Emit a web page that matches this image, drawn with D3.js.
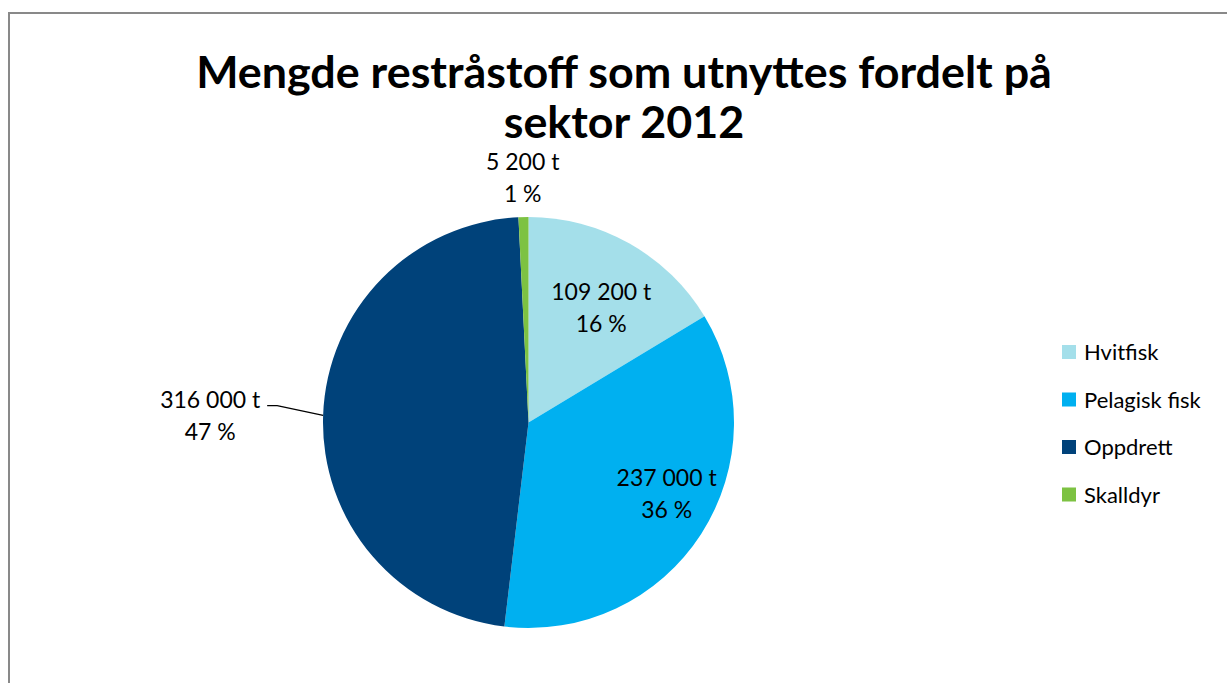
<!DOCTYPE html>
<html>
<head>
<meta charset="utf-8">
<script src="https://cdn.jsdelivr.net/npm/d3@7"></script>
<style>
  body { margin: 0; background: #fff; }
  svg { display: block; }
  text { font-family: Lato, 'Open Sans', sans-serif; fill: #000; }
</style>
</head>
<body>
<div id="chart"></div>
<script>
const sectors = ['Hvitfisk', 'Pelagisk fisk', 'Oppdrett', 'Skalldyr']
const tonnes = [109200, 237000, 316000, 5200]
const tonneLabels = ['109 200 t', '237 000 t', '316 000 t', '5 200 t']
const pctLabels = ['16 %', '36 %', '47 %', '1 %']
const colors = ['#a4dfea', '#00b0f0', '#00427a', '#7dc242']
const titleLines = ['Mengde restråstoff som utnyttes fordelt på', 'sektor 2012']

const width = 1227
const height = 683
const cx = 528.5
const cy = 422.5
const radius = 205.5

// label placement per slice: radius factor, vertical nudge
const labelPos = [
  { k: 0.72, dy: 10 },
  { k: 0.80, dy: -22 },
  { k: 1.55, dy: 0 },
  { k: 1.15, dy: -12 }
]

const svg = d3.select('#chart')
  .append('svg')
  .attr('width', width)
  .attr('height', height)

svg.append('rect')
  .attr('x', 9)
  .attr('y', 13)
  .attr('width', 1300)
  .attr('height', 800)
  .attr('fill', '#fff')
  .attr('stroke', '#898989')
  .attr('stroke-width', 2)

// title, scaled to the reference width
const title = svg.append('g')
titleLines.forEach((line, i) => {
  title.append('text')
    .attr('x', 624)
    .attr('y', 88 + i * 50)
    .attr('text-anchor', 'middle')
    .style('font-weight', 'bold')
    .style('font-size', '40px')
    .text(line)
})
const first = title.select('text').node()
const scale = 856 / first.getComputedTextLength()
title.selectAll('text').style('font-size', (40 * scale) + 'px')

const pie = d3.pie().sort(null).value(d => d)
const arcs = pie(tonnes)
const arc = d3.arc().innerRadius(0).outerRadius(radius)

const g = svg.append('g').attr('transform', 'translate(' + cx + ',' + cy + ')')

g.selectAll('path')
  .data(arcs)
  .enter()
  .append('path')
  .attr('d', arc)
  .attr('fill', (d, i) => colors[i])

const midPoint = (d, r) => {
  const a = (d.startAngle + d.endAngle) / 2
  return [Math.sin(a) * r, -Math.cos(a) * r]
}

arcs.forEach((d, i) => {
  const p = labelPos[i]
  let [x, y] = midPoint(d, radius * p.k)
  y += p.dy
  if (i === 2) {
    // leader line for the big slice label
    const edge = midPoint(d, radius)
    const elbow = [x + 67, y - 6]
    g.append('polyline')
      .attr('points', [edge, elbow, [elbow[0] - 10, elbow[1]]].map(q => q.join(',')).join(' '))
      .attr('fill', 'none')
      .attr('stroke', '#000')
      .attr('stroke-width', 1.3)
  }
  g.append('text')
    .attr('x', x)
    .attr('y', y - 4)
    .attr('text-anchor', 'middle')
    .style('font-size', '23px')
    .text(tonneLabels[i])
  g.append('text')
    .attr('x', x)
    .attr('y', y + 28)
    .attr('text-anchor', 'middle')
    .style('font-size', '23px')
    .text(pctLabels[i])
})

const legend = svg.selectAll('.legend')
  .data(sectors)
  .enter()
  .append('g')
  .attr('class', 'legend')
  .attr('transform', (d, i) => 'translate(1062,' + (345 + i * 47.5) + ')')

legend.append('rect')
  .attr('width', 14)
  .attr('height', 14)
  .attr('fill', (d, i) => colors[i])

legend.append('text')
  .attr('x', 22)
  .attr('y', 15)
  .style('font-size', '22px')
  .text(d => d)
</script>
</body>
</html>
